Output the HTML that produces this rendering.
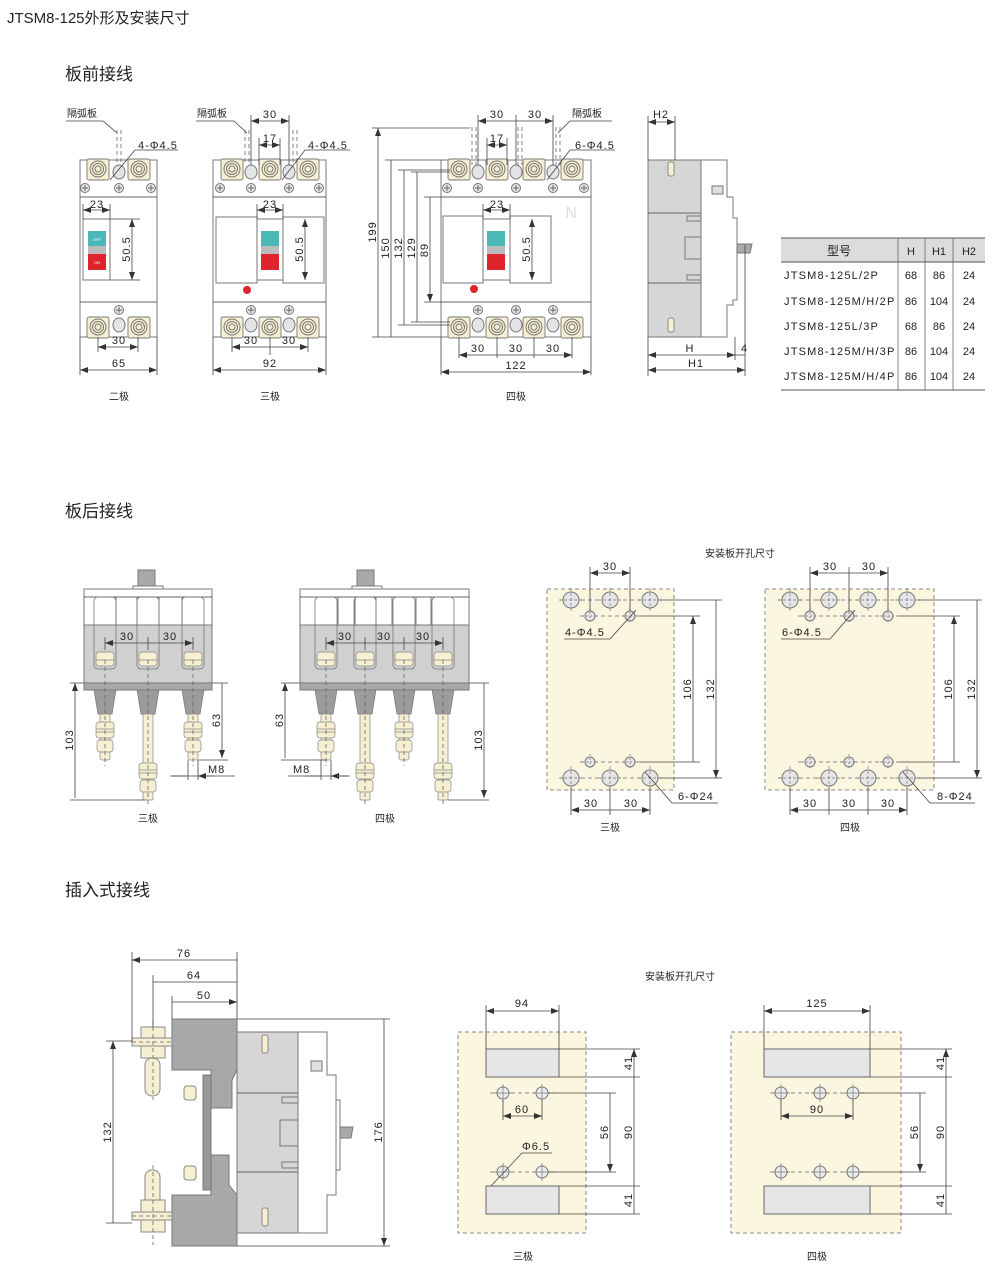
<!DOCTYPE html>
<html><head><meta charset="utf-8"><style>
html,body{margin:0;padding:0;background:#fff;}
svg{display:block;}
text{font-family:"Liberation Sans","Noto Sans CJK SC",sans-serif;fill:#222;}
.d{font-size:11px;letter-spacing:1px;}
.l{stroke:#444;stroke-width:0.8;fill:none;}
.dm{stroke:#444;stroke-width:0.8;fill:none;marker-start:url(#a);marker-end:url(#a);}
.ds{stroke:#666;stroke-width:0.8;fill:none;stroke-dasharray:4 3;}
.o{stroke:#666;stroke-width:0.9;}
</style></head><body>
<svg width="1000" height="1278" viewBox="0 0 1000 1278" xmlns="http://www.w3.org/2000/svg">
<defs>
<marker id="a" viewBox="0 0 8 6" refX="8" refY="3" markerWidth="8" markerHeight="6" orient="auto-start-reverse" markerUnits="userSpaceOnUse"><path d="M0 0L8 3L0 6z" fill="#333"/></marker>
<g id="tm"><rect x="-11" y="-10" width="22" height="21" rx="2" fill="#f6efd2" stroke="#777" stroke-width="0.9"/><circle r="8" fill="none" stroke="#777"/><circle r="5.5" fill="none" stroke="#777"/><circle r="3" fill="none" stroke="#777"/></g>
<g id="sc"><circle r="4.5" fill="#e6e6e6" stroke="#777"/><path d="M-3 0H3M0-3V3" stroke="#666"/></g>
<g id="ov"><ellipse rx="6" ry="7" fill="#e4e4e4" stroke="#777"/></g>
<g id="sl"><path d="M-11 690H11L7 714H-7Z" fill="#9c9c9c" stroke="#777" stroke-width="0.7"/><rect x="-5" y="714" width="10" height="46" rx="2" fill="#f6efd2" stroke="#888" stroke-width="0.7"/><rect x="-9" y="722" width="18" height="16" rx="3" fill="#f6efd2" stroke="#888" stroke-width="0.7"/><path d="M-9 729H9M-9 732H9" stroke="#888" stroke-width="0.7"/><rect x="-8" y="740" width="16" height="12" rx="3" fill="#f6efd2" stroke="#888" stroke-width="0.7"/><path d="M0 660V766" class="ds"/></g>
<g id="ll"><path d="M-11 690H11L7 714H-7Z" fill="#9c9c9c" stroke="#777" stroke-width="0.7"/><rect x="-5" y="714" width="10" height="86" rx="1" fill="#f6efd2" stroke="#888" stroke-width="0.7"/><rect x="-9" y="763" width="18" height="16" rx="3" fill="#f6efd2" stroke="#888" stroke-width="0.7"/><path d="M-9 770H9M-9 773H9" stroke="#888" stroke-width="0.7"/><rect x="-8" y="780" width="16" height="12" rx="3" fill="#f6efd2" stroke="#888" stroke-width="0.7"/><path d="M0 660V806" class="ds"/></g>
<g id="slot"><rect x="-11" y="597" width="22" height="72" rx="4" fill="none" stroke="#777" stroke-width="0.8"/><rect x="-9" y="652" width="18" height="14" rx="3" fill="#f6efd2" stroke="#888" stroke-width="0.7"/><path d="M-9 660H9" stroke="#888" stroke-width="0.7"/></g>
<g id="bh"><circle r="8" fill="#e6e6e6" stroke="#777"/><path d="M-12 0H12M0-12V12" stroke="#777" stroke-width="0.7" stroke-dasharray="3 2"/></g>
<g id="sh"><circle r="5" fill="#e6e6e6" stroke="#777"/><path d="M-8 0H8M0-8V8" stroke="#777" stroke-width="0.7" stroke-dasharray="2 2"/></g>
<g id="ph"><circle r="6" fill="#ececec" stroke="#777"/><path d="M-9 0H9M0-9V9" stroke="#777" stroke-width="0.7"/></g>
</defs>

<text x="7" y="23" font-size="15">JTSM8-125外形及安装尺寸</text>
<text x="65" y="80" font-size="17">板前接线</text>
<text x="65" y="517" font-size="17">板后接线</text>
<text x="65" y="896" font-size="17">插入式接线</text>

<!-- ===== 2 pole ===== -->
<g>
<rect x="80" y="160" width="77" height="177" fill="#fff" stroke="#777"/>
<path d="M80 197H157M80 302H157" class="o"/>
<use href="#tm" x="98" y="169"/><use href="#tm" x="139" y="169"/><use href="#ov" x="119" y="172"/>
<use href="#sc" x="85" y="188"/><use href="#sc" x="119" y="188"/><use href="#sc" x="151" y="188"/>
<rect x="83" y="219" width="27" height="61" fill="#fff" stroke="#777"/>
<rect x="88" y="231" width="18" height="15" fill="#4bb8b8"/><rect x="88" y="246" width="18" height="8" fill="#bcbcbc"/><rect x="88" y="254" width="18" height="16" fill="#e0242c"/>
<text x="97" y="241" font-size="4" text-anchor="middle" style="fill:#fff">OFF</text><text x="97" y="264" font-size="4" text-anchor="middle" style="fill:#fff">ON</text>
<path d="M110 219H140M110 280H140" class="l"/><path d="M132 219V280" class="dm"/>
<text x="0" y="0" class="d" transform="translate(130 249) rotate(-90)" text-anchor="middle">50.5</text>
<path d="M83 204V219M110 204V219" class="l"/><path d="M83 210H110" class="dm"/><text x="97" y="208" class="d" text-anchor="middle">23</text>
<use href="#tm" x="98" y="327"/><use href="#tm" x="139" y="327"/><use href="#ov" x="119" y="325"/><use href="#sc" x="119" y="310"/>
<path d="M98 337V352M138 337V352" class="l"/><path d="M98 347H138" class="dm"/><text x="119" y="344" class="d" text-anchor="middle">30</text>
<path d="M80 337V375M157 337V375" class="l"/><path d="M80 370H157" class="dm"/><text x="119" y="367" class="d" text-anchor="middle">65</text>
<path d="M117 130V165M121 130V165" class="ds"/>
<text x="67" y="117" font-size="10">隔弧板</text><path d="M66 121H103L117 133" class="l"/>
<text x="138" y="149" class="d">4-Φ4.5</text><path d="M178 150H135L110 180" class="l"/>
<text x="119" y="400" font-size="10" text-anchor="middle">二极</text>
</g>

<!-- ===== 3 pole ===== -->
<g>
<rect x="213" y="160" width="113" height="177" fill="#fff" stroke="#777"/>
<path d="M213 197H326M213 302H326" class="o"/>
<use href="#tm" x="232" y="169"/><use href="#tm" x="270" y="169"/><use href="#tm" x="308" y="169"/>
<use href="#ov" x="251" y="172"/><use href="#ov" x="289" y="172"/>
<use href="#sc" x="220" y="188"/><use href="#sc" x="251" y="188"/><use href="#sc" x="289" y="188"/><use href="#sc" x="319" y="188"/>
<rect x="216" y="217" width="41" height="66" fill="#fff" stroke="#777"/>
<rect x="257" y="219" width="26" height="61" fill="#fff" stroke="#777"/>
<rect x="283" y="217" width="41" height="66" fill="#fff" stroke="#777"/>
<rect x="261" y="231" width="18" height="15" fill="#4bb8b8"/><rect x="261" y="246" width="18" height="8" fill="#bcbcbc"/><rect x="261" y="254" width="18" height="16" fill="#e0242c"/>
<circle cx="247" cy="290" r="4" fill="#e0242c"/>
<path d="M305 219V280" class="dm"/>
<text x="0" y="0" class="d" transform="translate(303 249) rotate(-90)" text-anchor="middle">50.5</text>
<path d="M257 204V219M283 204V219" class="l"/><path d="M257 210H283" class="dm"/><text x="270" y="208" class="d" text-anchor="middle">23</text>
<use href="#tm" x="232" y="327"/><use href="#tm" x="270" y="327"/><use href="#tm" x="308" y="327"/>
<use href="#ov" x="251" y="325"/><use href="#ov" x="289" y="325"/><use href="#sc" x="251" y="310"/><use href="#sc" x="289" y="310"/>
<path d="M232 337V352M270 337V355M308 337V352" class="l"/><path d="M232 347H270M270 347H308" class="dm"/>
<text x="251" y="344" class="d" text-anchor="middle">30</text><text x="289" y="344" class="d" text-anchor="middle">30</text>
<path d="M213 337V375M326 337V375" class="l"/><path d="M213 370H326" class="dm"/><text x="270" y="367" class="d" text-anchor="middle">92</text>
<path d="M251 115V165M289 115V165M259 138V165M280 138V165" class="l"/>
<path d="M251 121H289" class="dm"/><text x="270" y="118" class="d" text-anchor="middle">30</text>
<path d="M259 145H280" class="dm"/><text x="270" y="142" class="d" text-anchor="middle">17</text>
<path d="M245 130V165M249 130V165M293 130V165M297 130V165" class="ds"/>
<text x="197" y="117" font-size="10">隔弧板</text><path d="M196 121H234L247 133" class="l"/>
<text x="308" y="149" class="d">4-Φ4.5</text><path d="M350 150H305L282 180" class="l"/>
<text x="270" y="400" font-size="10" text-anchor="middle">三极</text>
</g>

<!-- ===== 4 pole ===== -->
<g>
<rect x="441" y="160" width="150" height="177" fill="#fff" stroke="#777"/>
<path d="M441 197H591M441 302H591" class="o"/>
<use href="#tm" x="459" y="169"/><use href="#tm" x="497" y="169"/><use href="#tm" x="534" y="169"/><use href="#tm" x="572" y="169"/>
<use href="#ov" x="478" y="172"/><use href="#ov" x="516" y="172"/><use href="#ov" x="553" y="172"/>
<use href="#sc" x="447" y="188"/><use href="#sc" x="478" y="188"/><use href="#sc" x="516" y="188"/><use href="#sc" x="553" y="188"/><use href="#sc" x="584" y="188"/>
<rect x="443" y="216" width="40" height="67" fill="#fff" stroke="#777"/>
<rect x="483" y="219" width="27" height="61" fill="#fff" stroke="#777"/>
<rect x="510" y="216" width="41" height="67" fill="#fff" stroke="#777"/>
<rect x="487" y="231" width="18" height="15" fill="#4bb8b8"/><rect x="487" y="246" width="18" height="8" fill="#bcbcbc"/><rect x="487" y="254" width="18" height="16" fill="#e0242c"/>
<text x="571" y="218" font-size="16" text-anchor="middle" style="fill:#ddd">N</text>
<circle cx="474" cy="289" r="4" fill="#e0242c"/>
<path d="M532 219V280" class="dm"/>
<text x="0" y="0" class="d" transform="translate(530 249) rotate(-90)" text-anchor="middle">50.5</text>
<path d="M483 204V219M510 204V219" class="l"/><path d="M483 210H510" class="dm"/><text x="497" y="208" class="d" text-anchor="middle">23</text>
<use href="#tm" x="459" y="327"/><use href="#tm" x="497" y="327"/><use href="#tm" x="534" y="327"/><use href="#tm" x="572" y="327"/>
<use href="#ov" x="478" y="325"/><use href="#ov" x="516" y="325"/><use href="#ov" x="553" y="325"/>
<use href="#sc" x="478" y="310"/><use href="#sc" x="516" y="310"/><use href="#sc" x="553" y="310"/>
<path d="M459 337V358M497 337V358M534 337V358M572 337V358" class="l"/>
<path d="M459 355H497M497 355H534M534 355H572" class="dm"/>
<text x="478" y="352" class="d" text-anchor="middle">30</text><text x="516" y="352" class="d" text-anchor="middle">30</text><text x="553" y="352" class="d" text-anchor="middle">30</text>
<path d="M441 337V375M591 337V375" class="l"/><path d="M441 372H591" class="dm"/><text x="516" y="369" class="d" text-anchor="middle">122</text>
<path d="M478 115V165M516 115V165M553 115V165M487 138V165M507 138V165" class="l"/>
<path d="M478 121H516M516 121H553" class="dm"/><text x="497" y="118" class="d" text-anchor="middle">30</text><text x="535" y="118" class="d" text-anchor="middle">30</text>
<path d="M487 145H507" class="dm"/><text x="497" y="142" class="d" text-anchor="middle">17</text>
<path d="M472 127V165M476 127V165M518 127V165M522 127V165M556 127V165M560 127V165" class="ds"/>
<text x="572" y="117" font-size="10">隔弧板</text><path d="M612 121H570L558 133" class="l"/>
<text x="575" y="149" class="d">6-Φ4.5</text><path d="M615 150H570L547 180" class="l"/>
<!-- verticals -->
<path d="M372 128H470M385 160H441M398 170H450M411 172H450M424 197H441M372 337H441M385 337H441M398 325H450M411 322H450M424 302H441" class="l"/>
<path d="M378 128V337M391 160V337M404 170V325M417 172V322M430 197V302" class="dm"/>
<text transform="translate(376 232) rotate(-90)" class="d" text-anchor="middle">199</text>
<text transform="translate(389 248) rotate(-90)" class="d" text-anchor="middle">150</text>
<text transform="translate(402 248) rotate(-90)" class="d" text-anchor="middle">132</text>
<text transform="translate(415 248) rotate(-90)" class="d" text-anchor="middle">129</text>
<text transform="translate(428 250) rotate(-90)" class="d" text-anchor="middle">89</text>
<text x="516" y="400" font-size="10" text-anchor="middle">四极</text>
</g>

<!-- side view -->
<g>
<rect x="648" y="160" width="53" height="177" fill="#d6d6d6" stroke="#777"/>
<path d="M648 213H701M648 283H701" class="o"/>
<rect x="687" y="216" width="14" height="5" fill="none" stroke="#777"/><rect x="687" y="275" width="14" height="5" fill="none" stroke="#777"/>
<rect x="685" y="237" width="16" height="22" fill="none" stroke="#777"/>
<path d="M701 160H727V197H733V218H737V300H733V305H727V337H701Z" fill="#fff" stroke="#777"/>
<rect x="712" y="186" width="11" height="8" fill="#e0e0e0" stroke="#777"/>
<path d="M737 244H752L750 253H737Z" fill="#aaa" stroke="#777"/>
<rect x="668" y="162" width="6" height="14" rx="2" fill="#f6efd2" stroke="#888"/><rect x="668" y="318" width="6" height="14" rx="2" fill="#f6efd2" stroke="#888"/>
<path d="M648 116V160M675 116V160M648 337V376M735 337V360M745 245V376" class="l"/>
<path d="M648 122H675" class="dm"/><text x="661" y="118" class="d" text-anchor="middle">H2</text>
<path d="M648 355H735" class="dm"/><text x="690" y="352" class="d" text-anchor="middle">H</text>
<path d="M735 355H745" class="l"/><text x="741" y="352" class="d">4</text>
<path d="M648 370H745" class="dm"/><text x="696" y="367" class="d" text-anchor="middle">H1</text>
</g>

<!-- table -->
<g font-size="11">
<rect x="781" y="238" width="204" height="24" fill="#dcdcdc"/>
<path d="M781 238H985M781 262H985M781 390H985" stroke="#555" stroke-width="1"/>
<path d="M898 238V390M925 238V390M953 238V390" stroke="#666" stroke-width="0.8"/>
<text x="839" y="255" text-anchor="middle" font-size="12">型号</text>
<text x="911" y="255" text-anchor="middle">H</text><text x="939" y="255" text-anchor="middle">H1</text><text x="969" y="255" text-anchor="middle">H2</text>
<g class="d" style="letter-spacing:1.2px">
<text x="784" y="279">JTSM8-125L/2P</text><text x="784" y="305">JTSM8-125M/H/2P</text><text x="784" y="330">JTSM8-125L/3P</text><text x="784" y="355">JTSM8-125M/H/3P</text><text x="784" y="380">JTSM8-125M/H/4P</text>
</g>
<g text-anchor="middle">
<text x="911" y="279">68</text><text x="939" y="279">86</text><text x="969" y="279">24</text>
<text x="911" y="305">86</text><text x="939" y="305">104</text><text x="969" y="305">24</text>
<text x="911" y="330">68</text><text x="939" y="330">86</text><text x="969" y="330">24</text>
<text x="911" y="355">86</text><text x="939" y="355">104</text><text x="969" y="355">24</text>
<text x="911" y="380">86</text><text x="939" y="380">104</text><text x="969" y="380">24</text>
</g></g>

<!-- ===== rear 3 pole ===== -->
<g>
<rect x="138" y="570" width="17" height="17" fill="#a9a9a9" stroke="#777"/><rect x="133" y="586" width="30" height="4" fill="#fff" stroke="#777"/>
<rect x="84" y="589" width="128" height="36" fill="#fff" stroke="#777"/>
<rect x="84" y="625" width="128" height="58" fill="#d0d0d0" stroke="#777"/>
<rect x="84" y="683" width="128" height="7" fill="#a8a8a8" stroke="#777"/>
<path d="M84 597H212M116 597V625M137 597V625M159 597V625M182 597V625" class="o"/>
<use href="#slot" x="105"/><use href="#slot" x="148"/><use href="#slot" x="193"/>
<use href="#sl" x="105"/><use href="#ll" x="148"/><use href="#sl" x="193"/>
<path d="M105 637V650M148 637V650M193 637V650" class="l"/>
<path d="M105 643H148M148 643H193" class="dm"/><text x="127" y="640" class="d" text-anchor="middle">30</text><text x="170" y="640" class="d" text-anchor="middle">30</text>
<path d="M70 683H84M212 683H228M70 800H145M198 760H228M188 760V780M198 760V780M170 776H235" class="l"/>
<path d="M75 683V798M222 683V758" class="dm"/>
<path d="M172 776H188M214 776H198" stroke="#444" stroke-width="0.8" marker-end="url(#a)"/>
<text transform="translate(73 740) rotate(-90)" class="d" text-anchor="middle">103</text>
<text transform="translate(220 720) rotate(-90)" class="d" text-anchor="middle">63</text>
<text x="208" y="773" class="d">M8</text>
<text x="148" y="822" font-size="10" text-anchor="middle">三极</text>
</g>

<!-- ===== rear 4 pole ===== -->
<g>
<rect x="357" y="570" width="17" height="17" fill="#a9a9a9" stroke="#777"/><rect x="352" y="586" width="30" height="4" fill="#fff" stroke="#777"/>
<rect x="300" y="589" width="169" height="36" fill="#fff" stroke="#777"/>
<rect x="300" y="625" width="169" height="58" fill="#d0d0d0" stroke="#777"/>
<rect x="300" y="683" width="169" height="7" fill="#a8a8a8" stroke="#777"/>
<path d="M300 597H469M338 597V625M355 597V625M376 597V625M392 597V625M416 597V625M431 597V625" class="o"/>
<use href="#slot" x="326"/><use href="#slot" x="365"/><use href="#slot" x="404"/><use href="#slot" x="443"/>
<use href="#sl" x="326"/><use href="#ll" x="365"/><use href="#sl" x="404"/><use href="#ll" x="443"/>
<path d="M326 637V650M365 637V650M404 637V650M443 637V650" class="l"/>
<path d="M326 643H365M365 643H404M404 643H443" class="dm"/>
<text x="345" y="640" class="d" text-anchor="middle">30</text><text x="384" y="640" class="d" text-anchor="middle">30</text><text x="423" y="640" class="d" text-anchor="middle">30</text>
<path d="M281 683H300M469 683H489M281 760H326M448 800H489M321 760V780M331 760V780M288 776H350" class="l"/>
<path d="M285 683V758M484 683V798" class="dm"/>
<path d="M305 776H321M347 776H331" stroke="#444" stroke-width="0.8" marker-end="url(#a)"/>
<text transform="translate(283 720) rotate(-90)" class="d" text-anchor="middle">63</text>
<text transform="translate(482 740) rotate(-90)" class="d" text-anchor="middle">103</text>
<text x="293" y="773" class="d">M8</text>
<text x="385" y="822" font-size="10" text-anchor="middle">四极</text>
</g>

<!-- mounting holes -->
<text x="740" y="557" font-size="10" text-anchor="middle">安装板开孔尺寸</text>
<g>
<rect x="547" y="589" width="127" height="201" fill="#faf6df" stroke="#888" stroke-dasharray="4 3"/>
<path d="M560 600H662M580 616H640M580 762H640M560 778H662" class="ds"/>
<use href="#bh" x="571" y="600"/><use href="#bh" x="610" y="600"/><use href="#bh" x="650" y="600"/>
<use href="#sh" x="590" y="616"/><use href="#sh" x="630" y="616"/>
<use href="#sh" x="590" y="762"/><use href="#sh" x="630" y="762"/>
<use href="#bh" x="571" y="778"/><use href="#bh" x="610" y="778"/><use href="#bh" x="650" y="778"/>
<path d="M590 567V611M630 567V611M640 616H700M640 762H700M660 600H722M660 778H722M571 788V815M610 788V815M650 788V815" class="l"/>
<path d="M590 573H630" class="dm"/><text x="610" y="570" class="d" text-anchor="middle">30</text>
<path d="M693 616V762M716 600V778" class="dm"/>
<text transform="translate(691 689) rotate(-90)" class="d" text-anchor="middle">106</text>
<text transform="translate(714 689) rotate(-90)" class="d" text-anchor="middle">132</text>
<path d="M571 810H610M610 810H650" class="dm"/><text x="591" y="807" class="d" text-anchor="middle">30</text><text x="631" y="807" class="d" text-anchor="middle">30</text>
<text x="565" y="636" class="d">4-Φ4.5</text><path d="M564 639H610L636 610" class="l"/>
<text x="678" y="800" class="d">6-Φ24</text><path d="M718 803H672L645 772" class="l"/>
<text x="610" y="831" font-size="10" text-anchor="middle">三极</text>
</g>
<g>
<rect x="765" y="589" width="169" height="201" fill="#faf6df" stroke="#888" stroke-dasharray="4 3"/>
<path d="M778 600H920M798 616H900M798 762H900M778 778H920" class="ds"/>
<use href="#bh" x="790" y="600"/><use href="#bh" x="829" y="600"/><use href="#bh" x="868" y="600"/><use href="#bh" x="907" y="600"/>
<use href="#sh" x="810" y="616"/><use href="#sh" x="849" y="616"/><use href="#sh" x="888" y="616"/>
<use href="#sh" x="810" y="762"/><use href="#sh" x="849" y="762"/><use href="#sh" x="888" y="762"/>
<use href="#bh" x="790" y="778"/><use href="#bh" x="829" y="778"/><use href="#bh" x="868" y="778"/><use href="#bh" x="907" y="778"/>
<path d="M810 567V611M849 567V611M888 567V611M900 616H960M900 762H960M918 600H982M918 778H982M790 788V815M829 788V815M868 788V815M907 788V815" class="l"/>
<path d="M810 573H849M849 573H888" class="dm"/><text x="830" y="570" class="d" text-anchor="middle">30</text><text x="869" y="570" class="d" text-anchor="middle">30</text>
<path d="M954 616V762M977 600V778" class="dm"/>
<text transform="translate(952 689) rotate(-90)" class="d" text-anchor="middle">106</text>
<text transform="translate(975 689) rotate(-90)" class="d" text-anchor="middle">132</text>
<path d="M790 810H829M829 810H868M868 810H907" class="dm"/>
<text x="810" y="807" class="d" text-anchor="middle">30</text><text x="849" y="807" class="d" text-anchor="middle">30</text><text x="888" y="807" class="d" text-anchor="middle">30</text>
<text x="782" y="636" class="d">6-Φ4.5</text><path d="M781 639H830L855 610" class="l"/>
<text x="937" y="800" class="d">8-Φ24</text><path d="M975 803H930L903 772" class="l"/>
<text x="850" y="831" font-size="10" text-anchor="middle">四极</text>
</g>

<!-- ===== plug-in side ===== -->
<g>
<path d="M172 1019H237V1070L232 1080V1108H211V1075H203V1190H211V1155H229V1185L237 1195V1246H172V1195H211V1190H203V1075H211V1070H172Z" fill="#a8a8a8" stroke="#777"/>
<rect x="203" y="1075" width="8" height="115" fill="#999" stroke="#777"/>
<rect x="237" y="1032" width="61" height="201" fill="#d6d6d6" stroke="#777"/>
<path d="M237 1093H298M237 1172H298" class="o"/>
<rect x="282" y="1097" width="16" height="6" fill="none" stroke="#777"/><rect x="282" y="1162" width="16" height="6" fill="none" stroke="#777"/>
<rect x="280" y="1120" width="18" height="26" fill="none" stroke="#777"/>
<path d="M298 1032H327V1075H336V1195H327V1233H298Z" fill="#fff" stroke="#777"/>
<rect x="311" y="1061" width="11" height="10" fill="#e0e0e0" stroke="#777"/>
<rect x="336" y="1100" width="4" height="70" fill="#fff" stroke="#777"/>
<path d="M340 1127H353L351 1138H340Z" fill="#aaa" stroke="#777"/>
<rect x="262" y="1035" width="6" height="18" rx="2" fill="#f6efd2" stroke="#888"/><rect x="262" y="1208" width="6" height="18" rx="2" fill="#f6efd2" stroke="#888"/>
<!-- bolts -->
<rect x="141" y="1027" width="24" height="12" fill="#f6efd2" stroke="#888"/><rect x="132" y="1038" width="40" height="8" fill="#f6efd2" stroke="#888"/><rect x="141" y="1046" width="24" height="12" fill="#f6efd2" stroke="#888"/>
<rect x="145" y="1058" width="15" height="38" rx="7" fill="#f6efd2" stroke="#888"/>
<rect x="145" y="1170" width="15" height="38" rx="7" fill="#f6efd2" stroke="#888"/>
<rect x="141" y="1200" width="24" height="12" fill="#f6efd2" stroke="#888"/><rect x="132" y="1212" width="40" height="8" fill="#f6efd2" stroke="#888"/><rect x="141" y="1220" width="24" height="12" fill="#f6efd2" stroke="#888"/>
<rect x="184" y="1086" width="12" height="14" rx="3" fill="#f6efd2" stroke="#888"/><rect x="184" y="1166" width="12" height="14" rx="3" fill="#f6efd2" stroke="#888"/>
<path d="M153 1020V1100M153 1165V1245M132 1042H172M132 1216H172" class="ds"/>
<path d="M132 952V1042M153 975V1027M172 996V1019M237 952V1019M237 1019H390M237 1246H390M106 1041H132M106 1223H132" class="l"/>
<path d="M132 960H237M153 982H237M172 1002H237" class="dm"/>
<text x="184" y="957" class="d" text-anchor="middle">76</text><text x="194" y="979" class="d" text-anchor="middle">64</text><text x="204" y="999" class="d" text-anchor="middle">50</text>
<path d="M113 1041V1223M384 1019V1246" class="dm"/>
<text transform="translate(111 1132) rotate(-90)" class="d" text-anchor="middle">132</text>
<text transform="translate(382 1132) rotate(-90)" class="d" text-anchor="middle">176</text>
</g>

<text x="680" y="980" font-size="10" text-anchor="middle">安装板开孔尺寸</text>
<g>
<rect x="458" y="1032" width="128" height="201" fill="#faf6df" stroke="#888" stroke-dasharray="4 3"/>
<rect x="486" y="1049" width="73" height="28" fill="#e6e6e6" stroke="#666"/>
<rect x="486" y="1186" width="73" height="28" fill="#e6e6e6" stroke="#666"/>
<path d="M490 1093H555M490 1172H555" class="ds"/>
<use href="#ph" x="503" y="1093"/><use href="#ph" x="542" y="1093"/><use href="#ph" x="503" y="1172"/><use href="#ph" x="542" y="1172"/>
<path d="M486 1005V1049M559 1005V1049M559 1049H640M559 1077H640M559 1186H640M559 1214H640M548 1093H616M548 1172H616M503 1100V1120M542 1100V1120" class="l"/>
<path d="M486 1011H559" class="dm"/><text x="522" y="1007" class="d" text-anchor="middle">94</text>
<path d="M503 1116H542" class="dm"/><text x="522" y="1113" class="d" text-anchor="middle">60</text>
<path d="M634 1049V1077M634 1077V1186M634 1186V1214M610 1093V1172" class="dm"/>
<text transform="translate(632 1063) rotate(-90)" class="d" text-anchor="middle">41</text>
<text transform="translate(632 1132) rotate(-90)" class="d" text-anchor="middle">90</text>
<text transform="translate(632 1200) rotate(-90)" class="d" text-anchor="middle">41</text>
<text transform="translate(608 1132) rotate(-90)" class="d" text-anchor="middle">56</text>
<text x="522" y="1150" class="d">Φ6.5</text><path d="M552 1153H522L491 1186" class="l"/>
<text x="523" y="1260" font-size="10" text-anchor="middle">三极</text>
</g>
<g>
<rect x="731" y="1032" width="170" height="201" fill="#faf6df" stroke="#888" stroke-dasharray="4 3"/>
<rect x="764" y="1049" width="106" height="28" fill="#e6e6e6" stroke="#666"/>
<rect x="764" y="1186" width="106" height="28" fill="#e6e6e6" stroke="#666"/>
<path d="M770 1093H865M770 1172H865" class="ds"/>
<use href="#ph" x="781" y="1093"/><use href="#ph" x="820" y="1093"/><use href="#ph" x="853" y="1093"/>
<use href="#ph" x="781" y="1172"/><use href="#ph" x="820" y="1172"/><use href="#ph" x="853" y="1172"/>
<path d="M764 1005V1049M870 1005V1049M870 1049H952M870 1077H952M870 1186H952M870 1214H952M860 1093H926M860 1172H926M781 1100V1120M853 1100V1120" class="l"/>
<path d="M764 1011H870" class="dm"/><text x="817" y="1007" class="d" text-anchor="middle">125</text>
<path d="M781 1116H853" class="dm"/><text x="817" y="1113" class="d" text-anchor="middle">90</text>
<path d="M946 1049V1077M946 1077V1186M946 1186V1214M920 1093V1172" class="dm"/>
<text transform="translate(944 1063) rotate(-90)" class="d" text-anchor="middle">41</text>
<text transform="translate(944 1132) rotate(-90)" class="d" text-anchor="middle">90</text>
<text transform="translate(944 1200) rotate(-90)" class="d" text-anchor="middle">41</text>
<text transform="translate(918 1132) rotate(-90)" class="d" text-anchor="middle">56</text>
<text x="817" y="1260" font-size="10" text-anchor="middle">四极</text>
</g>
</svg>
</body></html>
